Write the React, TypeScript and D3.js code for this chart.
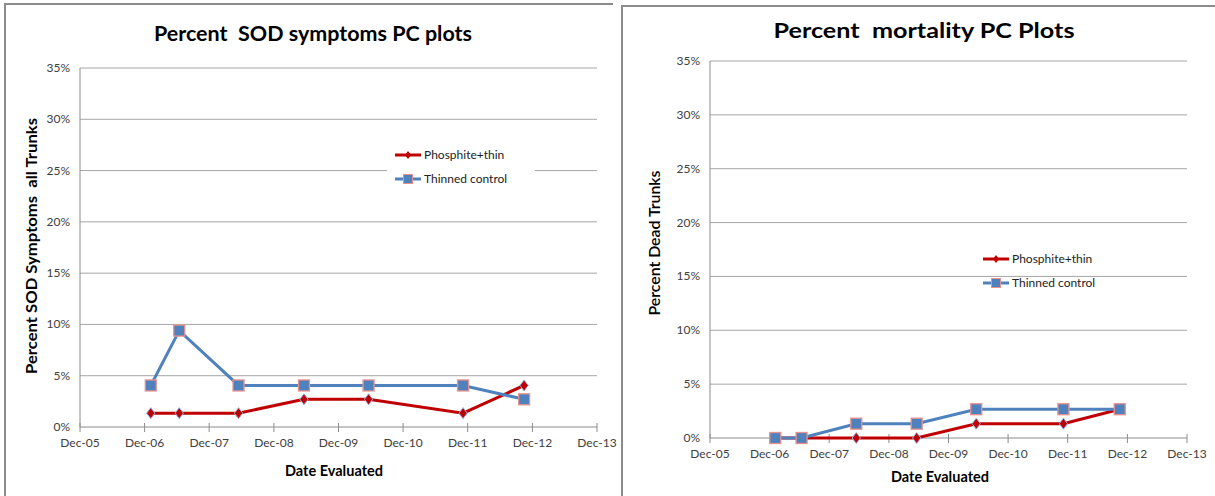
import React from "react";
import * as d3 from "d3";

// Survey dates (shared by both panels)
const surveyDates = [
  "2007-01-05",
  "2007-06-15",
  "2008-05-15",
  "2009-05-20",
  "2010-05-20",
  "2011-11-05",
  "2012-10-15",
];

// Percent of trunks with SOD symptoms
const sodPhosphite = [1.35, 1.35, 1.35, 2.7, 2.7, 1.35, 4.05];
const sodThinned = [4.05, 9.4, 4.05, 4.05, 4.05, 4.05, 2.7];

// Percent dead trunks
const mortPhosphite = [0, 0, 0, 0, 1.33, 1.33, 2.67];
const mortThinned = [0, 0, 1.33, 1.33, 2.67, 2.67, 2.67];

const seriesNames = ["Phosphite+thin", "Thinned control"];
const yTicks = [0, 5, 10, 15, 20, 25, 30, 35];
const xTickDates = [
  "2005-12-01",
  "2006-12-01",
  "2007-12-01",
  "2008-12-01",
  "2009-12-01",
  "2010-12-01",
  "2011-12-01",
  "2012-12-01",
  "2013-12-01",
];

const RED = "#C00000";
const BLUE = "#4F81BD";
const FONT = "Lato, 'Open Sans', sans-serif";

const parse = d3.timeParse("%Y-%m-%d");
const fmt = d3.timeFormat("%b-%y");

type Layout = {
  left: number;
  right: number;
  top: number;
  bottom: number;
  title: string;
  titleX: number;
  titleY: number;
  titleLen: number;
  yTitle: string;
  yTitleX: number;
  yTitleY: number;
  yTitleLen: number;
  yTitleWeight: number;
  xTitleX: number;
  xTitleY: number;
  legendX: number;
  legendY: number;
  legendBg: boolean;
  red: number[];
  blue: number[];
};

function Diamond({ x, y }: { x: number; y: number }) {
  const r = 5.5;
  return (
    <path
      d={`M${x},${y - r}L${x + r * 0.75},${y}L${x},${y + r}L${x - r * 0.75},${y}Z`}
      fill={RED}
      stroke="#8DB3E2"
      strokeWidth={1}
    />
  );
}

function Square({ x, y }: { x: number; y: number }) {
  const s = 11;
  return (
    <rect
      x={x - s / 2}
      y={y - s / 2}
      width={s}
      height={s}
      fill={BLUE}
      stroke="#E6918E"
      strokeWidth={1.3}
    />
  );
}

function Panel(p: Layout) {
  const x = d3
    .scaleTime()
    .domain([parse(xTickDates[0])!, parse(xTickDates[xTickDates.length - 1])!])
    .range([p.left, p.right]);
  const y = d3.scaleLinear().domain([0, 35]).range([p.bottom, p.top]);
  const dates = surveyDates.map((d) => parse(d)!);
  const line = d3
    .line<number>()
    .x((_, i) => x(dates[i]))
    .y((v) => y(v));

  return (
    <g>
      <text
        x={p.titleX}
        y={p.titleY}
        textAnchor="middle"
        fontFamily={FONT}
        fontWeight={700}
        fontSize={21}
        fill="#000"
        textLength={p.titleLen}
        lengthAdjust="spacingAndGlyphs"
        style={{ whiteSpace: "pre" }}
      >
        {p.title}
      </text>

      {/* gridlines and y labels */}
      {yTicks.map((t) => (
        <g key={t}>
          {t > 0 && (
            <line
              x1={p.left}
              x2={p.right}
              y1={y(t)}
              y2={y(t)}
              stroke="#A6A6A6"
              strokeWidth={1}
            />
          )}
          <text
            x={p.left - 10}
            y={y(t) + 4}
            textAnchor="end"
            fontFamily={FONT}
            fontSize={12}
            fill="#404040"
          >
            {t}%
          </text>
        </g>
      ))}

      {/* axes */}
      <line x1={p.left} x2={p.left} y1={p.top} y2={p.bottom} stroke="#8C8C8C" />
      <line x1={p.left} x2={p.right} y1={p.bottom} y2={p.bottom} stroke="#8C8C8C" />
      {xTickDates.map((d) => {
        const dt = parse(d)!;
        const tx = x(dt);
        return (
          <g key={d}>
            <line x1={tx} x2={tx} y1={p.bottom - 4} y2={p.bottom + 5} stroke="#8C8C8C" />
            <text
              x={tx}
              y={p.bottom + 20}
              textAnchor="middle"
              fontFamily={FONT}
              fontSize={12}
              fill="#404040"
            >
              {fmt(dt)}
            </text>
          </g>
        );
      })}

      <text
        x={p.xTitleX}
        y={p.xTitleY}
        textAnchor="middle"
        fontFamily={FONT}
        fontWeight={700}
        fontSize={14.5}
        fill="#000"
      >
        Date Evaluated
      </text>
      <text
        transform={`translate(${p.yTitleX},${p.yTitleY}) rotate(-90)`}
        textAnchor="middle"
        fontFamily={FONT}
        fontWeight={p.yTitleWeight}
        fontSize={15}
        fill="#000"
        textLength={p.yTitleLen}
        lengthAdjust="spacingAndGlyphs"
        style={{ whiteSpace: "pre" }}
      >
        {p.yTitle}
      </text>

      {/* series */}
      <path d={line(p.red)!} fill="none" stroke={RED} strokeWidth={3} />
      {p.red.map((v, i) => (
        <Diamond key={i} x={x(dates[i])} y={y(v)} />
      ))}
      <path d={line(p.blue)!} fill="none" stroke={BLUE} strokeWidth={3} />
      {p.blue.map((v, i) => (
        <Square key={i} x={x(dates[i])} y={y(v)} />
      ))}

      {/* legend */}
      <g transform={`translate(${p.legendX},${p.legendY})`}>
        {p.legendBg && <rect x={-8} y={-18} width={148} height={50} fill="#fff" />}
        <line x1={0} x2={26} y1={0} y2={0} stroke={RED} strokeWidth={3} />
        <path d="M13,-4L16,0L13,4L10,0Z" fill={RED} />
        <text x={29} y={4} fontFamily={FONT} fontSize={12} fill="#222">
          {seriesNames[0]}
        </text>
        <line x1={0} x2={26} y1={24} y2={24} stroke={BLUE} strokeWidth={3} />
        <rect x={8.5} y={19.5} width={9} height={9} fill={BLUE} stroke="#E6918E" strokeWidth={1} />
        <text x={29} y={28} fontFamily={FONT} fontSize={12} fill="#222">
          {seriesNames[1]}
        </text>
      </g>
    </g>
  );
}

export default function App() {
  return (
    <svg
      width={1215}
      height={496}
      style={{ position: "absolute", left: 0, top: 0, background: "#fff" }}
    >
      {/* panel frames */}
      <path d="M5,496V4H613" fill="none" stroke="#8C8C8C" strokeWidth={2} />
      <path d="M622,496V6H1215" fill="none" stroke="#8C8C8C" strokeWidth={2} />

      <Panel
        left={80}
        right={597}
        top={68}
        bottom={427}
        title={"Percent  SOD symptoms PC plots"}
        titleX={313}
        titleY={41}
        titleLen={318}
        yTitle={"Percent SOD Symptoms  all Trunks"}
        yTitleX={37}
        yTitleY={246}
        yTitleLen={256}
        yTitleWeight={700}
        xTitleX={334}
        xTitleY={476}
        legendX={395}
        legendY={155}
        legendBg={true}
        red={sodPhosphite}
        blue={sodThinned}
      />
      <Panel
        left={710}
        right={1187}
        top={61}
        bottom={438}
        title={"Percent  mortality PC Plots"}
        titleX={924}
        titleY={38}
        titleLen={301}
        yTitle={"Percent Dead Trunks"}
        yTitleX={660}
        yTitleY={243}
        yTitleLen={145}
        yTitleWeight={600}
        xTitleX={940}
        xTitleY={482}
        legendX={983}
        legendY={259}
        legendBg={false}
        red={mortPhosphite}
        blue={mortThinned}
      />
    </svg>
  );
}
